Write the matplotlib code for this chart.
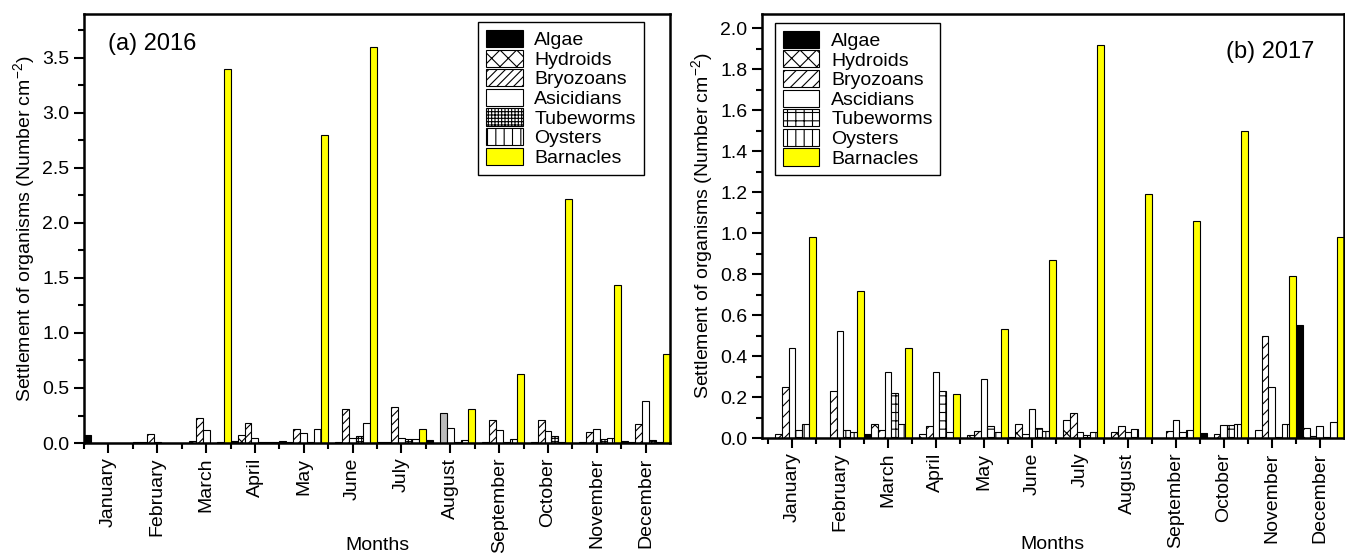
import numpy as np
import matplotlib
matplotlib.use("Agg")
import matplotlib.pyplot as plt

plt.rcParams["font.family"] = ["Liberation Sans", "DejaVu Sans"]
plt.rcParams["mathtext.default"] = "regular"
plt.rcParams["hatch.linewidth"] = 0.8

months = ["January", "February", "March", "April", "May", "June",
          "July", "August", "September", "October", "November", "December"]
groups_2016 = ["Algae", "Hydroids", "Bryozoans", "Asicidians", "Tubeworms", "Oysters", "Barnacles"]
groups_2017 = ["Algae", "Hydroids", "Bryozoans", "Ascidians", "Tubeworms", "Oysters", "Barnacles"]

# settlement (Number cm^-2), one list per organism, Jan..Dec
algae_2016 = [0.07, 0.01, 0.00, 0.02, 0.02, 0.00, 0.01, 0.03, 0.00, 0.00, 0.00, 0.02]
hydroids_2016 = [0.00, 0.01, 0.02, 0.07, 0.01, 0.01, 0.01, 0.00, 0.005, 0.005, 0.01, 0.005]
bryozoans_2016 = [0.00, 0.08, 0.23, 0.18, 0.13, 0.31, 0.33, 0.27, 0.21, 0.21, 0.10, 0.17]
ascidians_2016 = [0.00, 0.01, 0.12, 0.05, 0.09, 0.05, 0.05, 0.14, 0.12, 0.11, 0.13, 0.38]
tubeworms_2016 = [0.00, 0.00, 0.00, 0.01, 0.01, 0.06, 0.04, 0.005, 0.01, 0.06, 0.04, 0.03]
oysters_2016 = [0.00, 0.00, 0.01, 0.01, 0.13, 0.18, 0.04, 0.03, 0.04, 0.01, 0.05, 0.01]
barnacles_2016 = [0.00, 0.00, 3.40, 0.01, 2.80, 3.60, 0.13, 0.31, 0.63, 2.22, 1.44, 0.81]

algae_2017 = [0.00, 0.00, 0.02, 0.00, 0.00, 0.005, 0.00, 0.00, 0.00, 0.025, 0.00, 0.55]
hydroids_2017 = [0.02, 0.00, 0.07, 0.02, 0.015, 0.07, 0.09, 0.03, 0.00, 0.00, 0.04, 0.05]
bryozoans_2017 = [0.25, 0.23, 0.04, 0.06, 0.035, 0.02, 0.12, 0.06, 0.035, 0.02, 0.50, 0.01]
ascidians_2017 = [0.44, 0.52, 0.32, 0.32, 0.29, 0.14, 0.03, 0.03, 0.09, 0.065, 0.25, 0.06]
tubeworms_2017 = [0.04, 0.04, 0.22, 0.23, 0.06, 0.05, 0.015, 0.045, 0.03, 0.065, 0.005, 0.005]
oysters_2017 = [0.07, 0.03, 0.07, 0.03, 0.03, 0.035, 0.03, 0.00, 0.04, 0.07, 0.07, 0.08]
barnacles_2017 = [0.98, 0.72, 0.44, 0.215, 0.53, 0.87, 1.92, 1.19, 1.06, 1.50, 0.79, 0.98]

data_2016 = [algae_2016, hydroids_2016, bryozoans_2016, ascidians_2016,
             tubeworms_2016, oysters_2016, barnacles_2016]
data_2017 = [algae_2017, hydroids_2017, bryozoans_2017, ascidians_2017,
             tubeworms_2017, oysters_2017, barnacles_2017]

face = ["black", "white", "white", "white", "white", "white", "#FFFF00"]
hatch_2016 = ["", "xx", "////", "", "+++++", "||", ""]
hatch_2017 = ["", "xx", "///", "", "++", "||", ""]

fig = plt.figure(figsize=(13.45, 5.55), dpi=100)
ax1 = fig.add_axes([0.0625, 0.2018, 0.4357, 0.773])
ax2 = fig.add_axes([0.5665, 0.2108, 0.4327, 0.764])

x = np.arange(len(months))
w = 1 / 7


def draw_panel(ax, data, names, hatches):
    conts = []
    for k, (vals, name) in enumerate(zip(data, names)):
        c = ax.bar(x + (k - 3) * w, vals, width=w, color=face[k], edgecolor="black",
                   linewidth=0.8, hatch=hatches[k], label=name)
        conts.append(c)
    ax.set_xticks(x)
    ax.set_xticklabels(months, rotation=90, fontsize=14)
    ax.set_xticks(np.arange(-0.5, 11.0, 1), minor=True)
    ax.tick_params(axis="both", which="major", direction="out", length=7, width=1.5, labelsize=14)
    ax.tick_params(axis="both", which="minor", direction="out", length=4, width=1.5)
    for s in ax.spines.values():
        s.set_linewidth(1.8)
    ax.set_xlabel("Months", fontsize=14, va="center")
    ax.set_ylabel("Settlement of organisms (Number cm$^{-2}$)", fontsize=14)
    return conts


conts1 = draw_panel(ax1, data_2016, groups_2016, hatch_2016)
# the August bryozoan bar is printed plain grey in the source figure
conts1[2][7].set_facecolor("#BBBBBB")
conts1[2][7].set_hatch("")
ax1.set_xlim(-0.5, 11.5)
ax1.set_ylim(0, 3.9)
ax1.set_yticks(np.arange(0, 3.6, 0.5))
ax1.set_yticks(np.arange(0.25, 3.9, 0.5), minor=True)
ax1.xaxis.set_label_coords(0.5, -0.238)
ax1.text(0.04, 0.93, "(a) 2016", transform=ax1.transAxes, fontsize=17, va="center")

conts2 = draw_panel(ax2, data_2017, groups_2017, hatch_2017)
ax2.set_xlim(-0.625, 11.5)
ax2.set_ylim(0, 2.07)
ax2.set_yticks(np.arange(0, 2.01, 0.2))
ax2.set_yticks(np.arange(0.1, 2.07, 0.2), minor=True)
ax2.xaxis.set_label_coords(0.5, -0.252)
ax2.text(0.95, 0.91, "(b) 2017", transform=ax2.transAxes, fontsize=17, va="center", ha="right")

leg_kw = dict(loc="upper left", borderaxespad=0, fontsize=14, handlelength=1.9,
              handleheight=0.98, handletextpad=0.6, labelspacing=0.02, borderpad=0.4,
              fancybox=False, framealpha=1, edgecolor="black")
l1 = ax1.legend(bbox_to_anchor=(0.672, 0.981), **leg_kw)
l2 = ax2.legend(bbox_to_anchor=(0.022, 0.979), **leg_kw)
for l in (l1, l2):
    l.get_frame().set_linewidth(1.0)

fig.savefig("out.png", dpi=100)
